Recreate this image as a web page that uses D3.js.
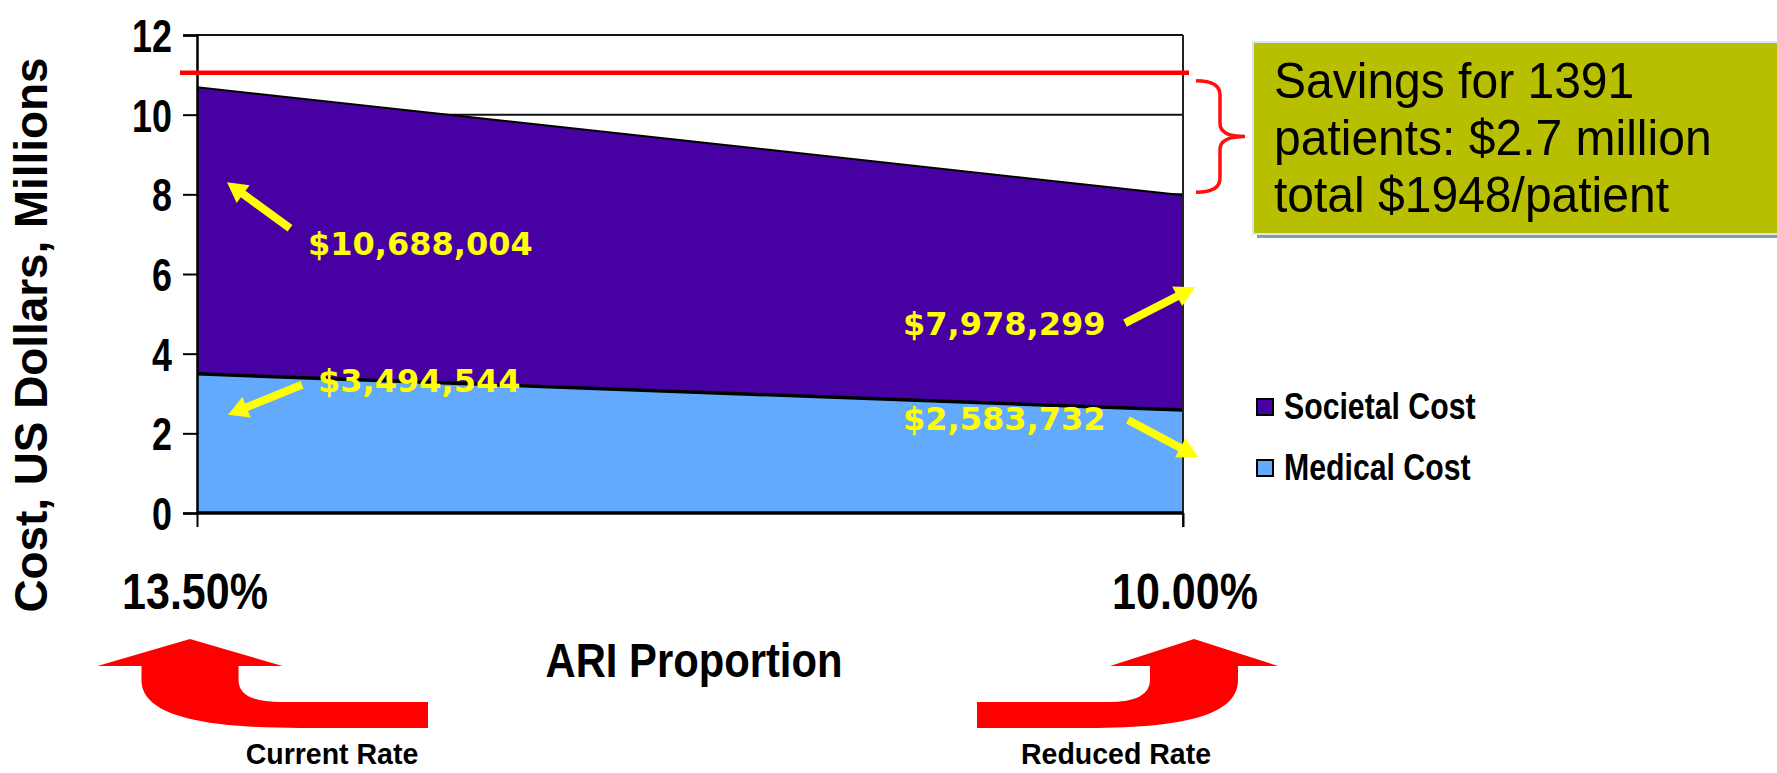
<!DOCTYPE html>
<html>
<head>
<meta charset="utf-8">
<script src="https://cdn.jsdelivr.net/npm/d3@7"></script>
<style>
  body { margin: 0; background: #fff; }
  svg { display: block; }
  .tick text { font-family: "Liberation Sans", Arial, sans-serif; font-weight: bold; }
</style>
</head>
<body>
<svg id="canvas" width="1777" height="773"></svg>
<script>
var W = 1777, H = 773;
// chart data
var rates = ['13.50%', '10.00%'];
var societalCost = [10.688004, 7.978299];   // millions, total
var medicalCost = [3.494544, 2.583732];
var seriesNames = ['Societal Cost', 'Medical Cost'];
var seriesColors = ['#4700a1', '#63a9fc'];
var yTicks = [0, 2, 4, 6, 8, 10, 12];
var refLine = 11.05;
var boxLines = ['Savings for 1391', 'patients: $2.7 million', 'total $1948/patient'];
var rateNotes = ['Current Rate', 'Reduced Rate'];

var x0 = 197, x1 = 1183, yTop = 35, yBot = 513;
var x = d3.scalePoint().domain(rates).range([x0, x1]);
var y = d3.scaleLinear().domain([0, 12]).range([yBot, yTop]);

var svg = d3.select('#canvas');

// squeeze text horizontally (the original font is a narrow bold)
function squeeze(sel, k) {
  sel.each(function () {
    var w = this.getComputedTextLength();
    d3.select(this).attr('textLength', w * k).attr('lengthAdjust', 'spacingAndGlyphs');
  });
}

// gridlines
svg.append('g').selectAll('line')
  .data(yTicks)
  .join('line')
  .attr('x1', x0).attr('x2', x1)
  .attr('y1', d => y(d)).attr('y2', d => y(d))
  .attr('stroke', '#111').attr('stroke-width', 2);

// areas (overlapping, societal is the total)
var area = d3.area()
  .x((d, i) => x(rates[i]))
  .y0(y(0))
  .y1(d => y(d));
var line = d3.line()
  .x((d, i) => x(rates[i]))
  .y(d => y(d));

svg.append('path').attr('d', area(societalCost)).attr('fill', seriesColors[0]);
svg.append('path').attr('d', line(societalCost)).attr('fill', 'none')
  .attr('stroke', '#000').attr('stroke-width', 2);
svg.append('path').attr('d', area(medicalCost)).attr('fill', seriesColors[1]);
svg.append('path').attr('d', line(medicalCost)).attr('fill', 'none')
  .attr('stroke', '#000').attr('stroke-width', 3.5);

// right edge
svg.append('line').attr('x1', x1).attr('x2', x1).attr('y1', yTop).attr('y2', yBot + 14)
  .attr('stroke', '#222').attr('stroke-width', 2);

// y axis
var yAxis = svg.append('g')
  .attr('transform', 'translate(' + x0 + ',0)')
  .call(d3.axisLeft(y).tickValues(yTicks).tickSize(14).tickPadding(11));
yAxis.select('.domain').attr('stroke', '#000').attr('stroke-width', 2.5);
yAxis.selectAll('.tick line').attr('stroke', '#000').attr('stroke-width', 2);
yAxis.selectAll('.tick text').attr('font-size', 46).attr('fill', '#000').attr('dy', '0.36em')
  .call(squeeze, 0.78);

// x axis
var xAxis = svg.append('g')
  .attr('transform', 'translate(0,' + yBot + ')')
  .call(d3.axisBottom(x).tickSize(14).tickFormat(''));
xAxis.select('.domain').attr('stroke', '#000').attr('stroke-width', 3.5)
  .attr('d', 'M' + x0 + ',0H' + x1);
xAxis.selectAll('.tick line').attr('stroke', '#000').attr('stroke-width', 2);

svg.append('g').selectAll('text')
  .data(rates)
  .join('text')
  .attr('x', (d, i) => x(d) + (i == 0 ? -2 : 2))
  .attr('y', 609)
  .attr('text-anchor', 'middle')
  .attr('font-family', '"Liberation Sans", Arial, sans-serif')
  .attr('font-weight', 'bold')
  .attr('font-size', 50)
  .text(d => d)
  .call(squeeze, 0.86);

// axis titles
svg.append('text')
  .attr('x', 694).attr('y', 677)
  .attr('text-anchor', 'middle')
  .attr('font-family', '"Liberation Sans", Arial, sans-serif')
  .attr('font-weight', 'bold').attr('font-size', 48)
  .text('ARI Proportion')
  .call(squeeze, 0.87);

svg.append('text')
  .attr('transform', 'translate(47,335) rotate(-90)')
  .attr('text-anchor', 'middle')
  .attr('font-family', '"Liberation Sans", Arial, sans-serif')
  .attr('font-weight', 'bold').attr('font-size', 46)
  .attr('textLength', 555).attr('lengthAdjust', 'spacingAndGlyphs')
  .text('Cost, US Dollars, Millions');

// red reference line
svg.append('line')
  .attr('x1', 180).attr('x2', x1 + 6)
  .attr('y1', y(refLine)).attr('y2', y(refLine))
  .attr('stroke', '#ff0000').attr('stroke-width', 4.5);

// brace
var bT = y(refLine) + 8, bB = y(societalCost[1]) - 3, bM = (bT + bB) / 2;
var bx = x1 + 13, bs = x1 + 37, bt = x1 + 62;
svg.append('path')
  .attr('d', 'M' + bx + ',' + bT + 'Q' + bs + ',' + bT + ' ' + bs + ',' + (bT + 14) +
    'L' + bs + ',' + (bM - 13) + 'Q' + bs + ',' + bM + ' ' + bt + ',' + bM +
    'Q' + bs + ',' + bM + ' ' + bs + ',' + (bM + 13) +
    'L' + bs + ',' + (bB - 14) + 'Q' + bs + ',' + bB + ' ' + bx + ',' + bB)
  .attr('fill', 'none').attr('stroke', '#ff1010').attr('stroke-width', 3.5);

// savings box
var box = svg.append('g');
box.append('rect').attr('x', 1257).attr('y', 46).attr('width', 540).attr('height', 192).attr('fill', '#8b9ba8');
box.append('rect').attr('x', 1253).attr('y', 42).attr('width', 540).attr('height', 192)
  .attr('fill', '#b8bf00').attr('stroke', '#d8eaf0').attr('stroke-width', 2);
box.selectAll('text')
  .data(boxLines)
  .join('text')
  .attr('x', 1274)
  .attr('y', (d, i) => 98 + i * 57)
  .attr('font-family', '"Liberation Sans", Arial, sans-serif')
  .attr('font-size', 50)
  .attr('fill', '#000')
  .text(d => d)
  .call(squeeze, 0.96);

// legend
var legend = svg.append('g');
seriesNames.forEach(function (name, i) {
  var ly = 399 + i * 61;
  legend.append('rect').attr('x', 1257).attr('y', ly).attr('width', 16).attr('height', 16)
    .attr('fill', seriesColors[i]).attr('stroke', '#000').attr('stroke-width', 2);
  legend.append('text').attr('x', 1284).attr('y', ly + 20)
    .attr('font-family', '"Liberation Sans", Arial, sans-serif')
    .attr('font-weight', 'bold').attr('font-size', 36)
    .text(name)
    .call(squeeze, 0.84);
});

// yellow value annotations, offsets relative to each data point
var fmt = d3.format('$,.0f');
var notes = [
  { v: societalCost, i: 0, lab: [111, 168], tail: [93, 141], head: [30, 95] },
  { v: medicalCost, i: 0, lab: [121, 18], tail: [105, 11], head: [31, 41] },
  { v: societalCost, i: 1, lab: [-280, 140], tail: [-58, 128], head: [12, 92] },
  { v: medicalCost, i: 1, lab: [-280, 20], tail: [-55, 10], head: [15, 47] }
];

function arrowPath(ax, ay, bx, by, sw, hl, hw) {
  var dx = bx - ax, dy = by - ay, L = Math.sqrt(dx * dx + dy * dy);
  var ux = dx / L, uy = dy / L, nx = -uy, ny = ux;
  var cx = bx - ux * hl, cy = by - uy * hl;
  var p = [
    [ax + nx * sw / 2, ay + ny * sw / 2],
    [cx + nx * sw / 2, cy + ny * sw / 2],
    [cx + nx * hw / 2, cy + ny * hw / 2],
    [bx, by],
    [cx - nx * hw / 2, cy - ny * hw / 2],
    [cx - nx * sw / 2, cy - ny * sw / 2],
    [ax - nx * sw / 2, ay - ny * sw / 2]
  ];
  return 'M' + p.map(q => q[0].toFixed(1) + ',' + q[1].toFixed(1)).join('L') + 'Z';
}

var ann = svg.append('g');
notes.forEach(function (n) {
  var px = x(rates[n.i]), py = y(n.v[n.i]);
  ann.append('path')
    .attr('d', arrowPath(px + n.tail[0], py + n.tail[1], px + n.head[0], py + n.head[1], 8, 20, 22))
    .attr('fill', '#ffff00');
  ann.append('text')
    .attr('x', px + n.lab[0]).attr('y', py + n.lab[1])
    .attr('font-family', '"DejaVu Sans", Verdana, sans-serif')
    .attr('font-weight', 'bold').attr('font-size', 32)
    .attr('fill', '#ffff00')
    .text(fmt(n.v[n.i] * 1e6));
});

// big red bent arrows under the rates
function bentArrow(cx, dir, shaftW, headW, reach) {
  var s = function (d) { return cx + dir * d; };
  var hw = shaftW / 2;
  var tipY = 639, baseY = 666, bandT = 702, bandB = 728;
  return 'M' + s(0) + ',' + tipY +
    'L' + s(headW / 2) + ',' + baseY +
    'L' + s(hw) + ',' + baseY +
    'L' + s(hw) + ',' + 680 +
    'Q' + s(hw) + ',' + bandT + ' ' + s(hw + 42) + ',' + bandT +
    'L' + s(reach) + ',' + bandT +
    'L' + s(reach) + ',' + bandB +
    'L' + s(hw + 62) + ',' + bandB +
    'C' + s(0) + ',' + bandB + ' ' + s(-hw) + ',' + 712 + ' ' + s(-hw) + ',' + 680 +
    'L' + s(-hw) + ',' + baseY +
    'L' + s(-headW / 2) + ',' + baseY + 'Z';
}

var red = svg.append('g');
red.append('path').attr('d', bentArrow(x(rates[0]) - 7, 1, 97, 185, 238)).attr('fill', '#ff0000');
red.append('path').attr('d', bentArrow(x(rates[1]) + 11, -1, 88, 168, 217)).attr('fill', '#ff0000');

svg.append('g').selectAll('text')
  .data(rateNotes)
  .join('text')
  .attr('x', (d, i) => i == 0 ? 332 : 1116)
  .attr('y', 764)
  .attr('text-anchor', 'middle')
  .attr('font-family', '"Liberation Sans", Arial, sans-serif')
  .attr('font-weight', 'bold').attr('font-size', 30)
  .text(d => d)
  .call(squeeze, 0.95);
</script>
</body>
</html>
